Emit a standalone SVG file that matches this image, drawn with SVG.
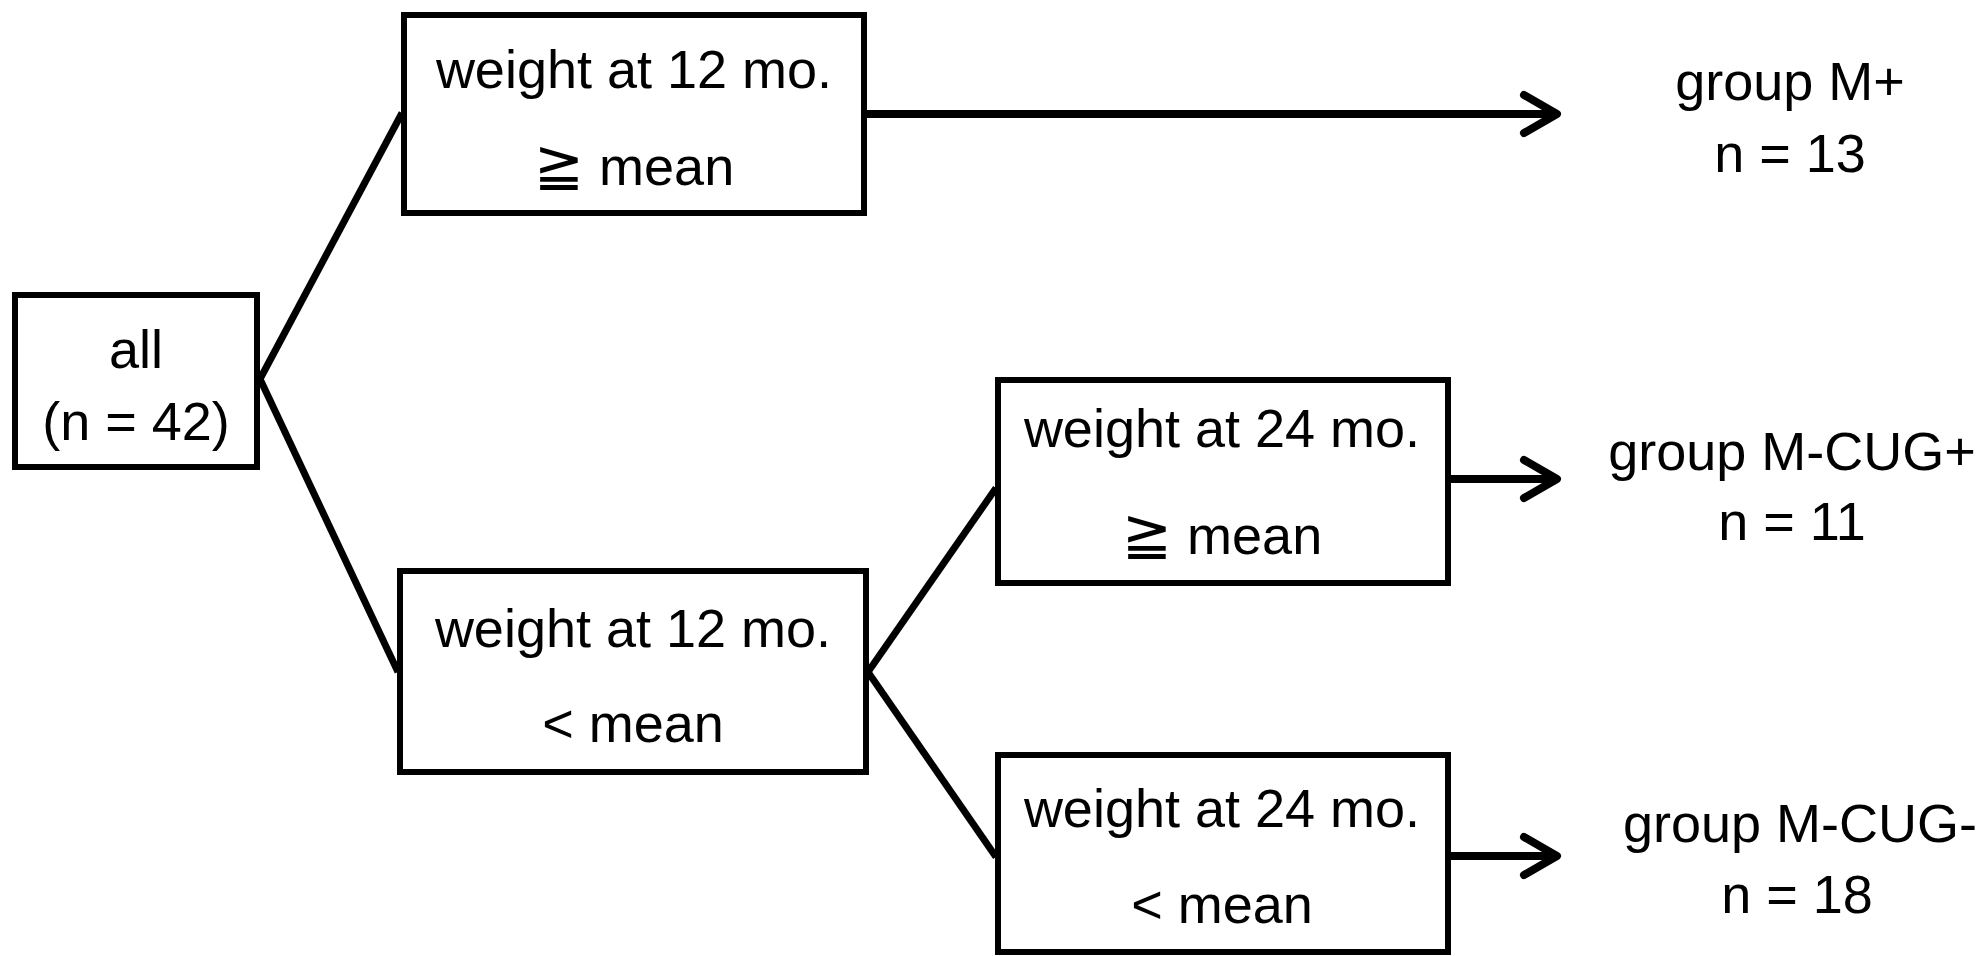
<svg xmlns="http://www.w3.org/2000/svg" width="1986" height="956" viewBox="0 0 1986 956">
<style>
.box{fill:#fff;stroke:#000;stroke-width:6}
.t{font-family:"Liberation Sans","DejaVu Sans",sans-serif;font-size:54px;fill:#000;text-anchor:middle}
.ge{font-size:60px}
.ln{stroke:#000;stroke-width:7;fill:none}
.ar{stroke:#000;stroke-width:8;fill:none}
</style>
<defs>
<marker id="chev" markerUnits="userSpaceOnUse" viewBox="-40 -25 46 50" refX="0" refY="0" markerWidth="46" markerHeight="50" orient="auto" overflow="visible">
<path d="M -33 -19 L 0 0 L -33 19" fill="none" stroke="#000" stroke-width="8" stroke-linecap="round" stroke-linejoin="round"/>
</marker>
</defs>
<rect width="1986" height="956" fill="#fff"/>
<g id="connectors">
<line class="ln" x1="260" y1="379" x2="402" y2="113"/>
<line class="ln" x1="260" y1="379" x2="398" y2="672"/>
<line class="ln" x1="868" y1="672" x2="996" y2="488"/>
<line class="ln" x1="868" y1="672" x2="996" y2="857"/>
<line class="ar" x1="866" y1="114" x2="1557" y2="114" marker-end="url(#chev)"/>
<line class="ar" x1="1450" y1="479" x2="1557" y2="479" marker-end="url(#chev)"/>
<line class="ar" x1="1450" y1="856" x2="1557" y2="856" marker-end="url(#chev)"/>
</g>
<g id="all">
<rect class="box" x="15" y="295" width="242" height="172"/>
<text class="t" x="136" y="368">all</text>
<text class="t" x="136" y="440">(n = 42)</text>
</g>
<g id="w12ge">
<rect class="box" x="404" y="15" width="460" height="198"/>
<text class="t" x="634" y="88">weight at 12 mo.</text>
<text class="t" x="634" y="185"><tspan class="ge">≧</tspan> mean</text>
</g>
<g id="w12lt">
<rect class="box" x="400" y="571" width="466" height="201"/>
<text class="t" x="633" y="647">weight at 12 mo.</text>
<text class="t" x="633" y="742">&lt; mean</text>
</g>
<g id="w24ge">
<rect class="box" x="998" y="380" width="450" height="203"/>
<text class="t" x="1222" y="447">weight at 24 mo.</text>
<text class="t" x="1222" y="554"><tspan class="ge">≧</tspan> mean</text>
</g>
<g id="w24lt">
<rect class="box" x="998" y="755" width="450" height="197"/>
<text class="t" x="1222" y="827">weight at 24 mo.</text>
<text class="t" x="1222" y="923">&lt; mean</text>
</g>
<g id="gMplus">
<text class="t" x="1790" y="100">group M+</text>
<text class="t" x="1790" y="172">n = 13</text>
</g>
<g id="gCUGplus">
<text class="t" x="1792" y="470">group M-CUG+</text>
<text class="t" x="1792" y="540">n = 11</text>
</g>
<g id="gCUGminus">
<text class="t" x="1800" y="842">group M-CUG-</text>
<text class="t" x="1797" y="913">n = 18</text>
</g>
</svg>
